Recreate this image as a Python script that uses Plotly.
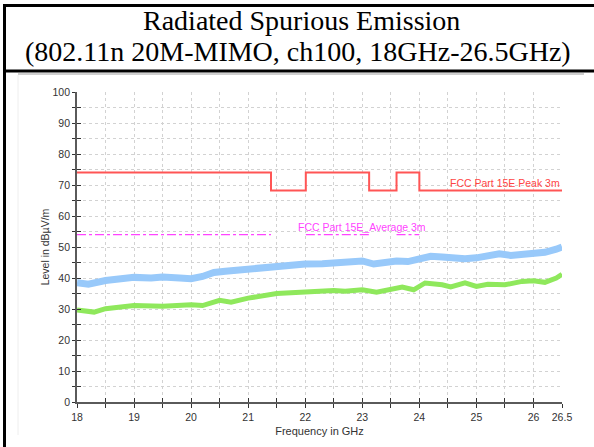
import plotly.graph_objects as go

W, H = 594, 447
ML, MR, MT, MB = 77, 32, 92, 45
PW, PH = W - ML - MR, H - MT - MB

# ---- data ----
freq_peak_trace = [18.0, 18.2, 18.5, 18.8, 19.0, 19.3, 19.5, 19.8, 20.0, 20.2, 20.4, 20.6,
                   20.8, 21.0, 21.3, 21.5, 21.8, 22.0, 22.3, 22.5, 22.8, 23.0, 23.2, 23.4,
                   23.6, 23.8, 24.0, 24.2, 24.4, 24.6, 24.8, 25.0, 25.2, 25.4, 25.6, 25.8,
                   26.0, 26.2, 26.4, 26.5]
level_peak_trace = [38.5, 38.0, 39.2, 39.8, 40.2, 40.0, 40.3, 40.0, 39.8, 40.5, 41.8, 42.2,
                    42.5, 43.0, 43.5, 44.0, 44.3, 44.5, 44.6, 44.8, 45.3, 45.5, 44.5, 45.0,
                    45.5, 45.3, 46.0, 47.0, 46.8, 46.5, 46.2, 46.5, 47.2, 47.8, 47.3, 47.5,
                    48.0, 48.3, 49.3, 50.0]

freq_avg_trace = [18.0, 18.3, 18.5, 19.0, 19.5, 20.0, 20.2, 20.5, 20.7, 21.0, 21.5, 22.0,
                  22.5, 22.7, 23.0, 23.25, 23.5, 23.7, 23.9, 24.1, 24.4, 24.55, 24.8, 25.0,
                  25.2, 25.5, 25.8, 26.0, 26.2, 26.4, 26.5]
level_avg_trace = [29.7, 29.0, 30.1, 31.1, 30.9, 31.4, 31.1, 32.8, 32.2, 33.5, 35.0, 35.4,
                   36.0, 35.7, 36.2, 35.4, 36.5, 37.1, 36.2, 38.4, 37.8, 37.1, 38.4, 37.3,
                   38.0, 37.8, 38.9, 39.1, 38.6, 40.0, 41.2]

limit_peak_freq = [18.0, 21.4, 22.01, 23.12, 23.6, 24.0, 26.5]
limit_peak_level = [74, 68.2, 74, 68.2, 74, 68.2, 68.2]

limit_avg_freq = [18.0, 21.4, None, 22.01, 23.12, None, 23.6, 24.0]
limit_avg_level = [54, 54, None, 54, 54, None, 54, 54]

x_tick_vals = [18, 19, 20, 21, 22, 23, 24, 25, 26, 26.5]
x_tick_text = ["18", "19", "20", "21", "22", "23", "24", "25", "26", "26.5"]
x_minor_vals = [18.5, 19.5, 20.5, 21.5, 22.5, 23.5, 24.5, 25.5]
x_all_ticks = [18 + 0.5 * i for i in range(18)]
y_tick_vals = [0, 10, 20, 30, 40, 50, 60, 70, 80, 90, 100]
y_minor_vals = [5, 15, 25, 35, 45, 55, 65, 75, 85, 95]
y_all_ticks = [5 * i for i in range(21)]

title_line1 = "Radiated Spurious Emission"
title_line2 = "(802.11n 20M-MIMO, ch100, 18GHz-26.5GHz)"
label_peak = "FCC Part 15E Peak 3m"
label_avg = "FCC Part 15E_Average 3m"


def px(xp):
    return (xp - ML) / PW


def py(yp):
    return (H - MB - yp) / PH


SANS = "Liberation Sans, Arial, sans-serif"
SERIF = "Liberation Serif, Times New Roman, serif"
GRID = "#d2d2d2"
AX = "#5a5a5a"

fig = go.Figure()
fig.add_trace(go.Scatter(x=freq_peak_trace, y=level_peak_trace, mode="lines",
                         line=dict(color="#98c9fa", width=7), showlegend=False, hoverinfo="skip"))
fig.add_trace(go.Scatter(x=freq_avg_trace, y=level_avg_trace, mode="lines",
                         line=dict(color="#8fe85c", width=5), showlegend=False, hoverinfo="skip"))
fig.add_trace(go.Scatter(x=limit_peak_freq, y=limit_peak_level, mode="lines", line_shape="hv",
                         line=dict(color="#ff5555", width=2), showlegend=False, hoverinfo="skip"))
fig.add_trace(go.Scatter(x=limit_avg_freq, y=limit_avg_level, mode="lines",
                         line=dict(color="#ff44ff", width=1.2, dash="dashdot"),
                         showlegend=False, hoverinfo="skip", connectgaps=False))
# helper trace for the overlay axes (crossing ticks)
fig.add_trace(go.Scatter(x=[x_tick_vals[0]], y=[y_tick_vals[0]], xaxis="x2", yaxis="y2",
                         mode="markers", marker=dict(opacity=0), showlegend=False,
                         hoverinfo="skip"))

fig.add_annotation(x=26.5, y=70.6, xref="x", yref="y", text=label_peak, showarrow=False,
                   xanchor="right", yanchor="middle",
                   font=dict(family=SANS, size=10.5, color="#ff4444"))
fig.add_annotation(x=21.84, y=56.5, xref="x", yref="y", text=label_avg, showarrow=False,
                   xanchor="left", yanchor="middle",
                   font=dict(family=SANS, size=10.5, color="#ff44ff"))

fig.add_annotation(x=px(301), y=py(20.5), xref="paper", yref="paper", text=title_line1,
                   showarrow=False, xanchor="center", yanchor="middle",
                   font=dict(family=SERIF, size=28, color="#000"))
fig.add_annotation(x=px(298), y=py(52), xref="paper", yref="paper", text=title_line2,
                   showarrow=False, xanchor="center", yanchor="middle",
                   font=dict(family=SERIF, size=28, color="#000"))

shapes = [
    dict(type="line", xref="paper", yref="paper", x0=px(3), x1=px(600), y0=py(5.5), y1=py(5.5),
         line=dict(color="#000", width=3)),
    dict(type="line", xref="paper", yref="paper", x0=px(3), x1=px(600), y0=py(71), y1=py(71),
         line=dict(color="#000", width=3)),
    dict(type="line", xref="paper", yref="paper", x0=px(4.5), x1=px(4.5), y0=py(4), y1=py(450),
         line=dict(color="#000", width=3)),
    dict(type="line", xref="paper", yref="paper", x0=px(18), x1=px(584), y0=py(74), y1=py(74),
         line=dict(color="#cfcfcf", width=2)),
    dict(type="line", xref="paper", yref="paper", x0=px(18), x1=px(18), y0=py(75), y1=py(435),
         line=dict(color="#eeeeee", width=1)),
]

fig.update_layout(
    width=W, height=H,
    margin=dict(l=ML, r=MR, t=MT, b=MB, autoexpand=False),
    paper_bgcolor="white", plot_bgcolor="white",
    shapes=shapes,
    xaxis=dict(range=[18, 26.5], tickmode="array", tickvals=x_tick_vals, ticktext=x_tick_text,
               ticks="outside", ticklen=4, tickwidth=1.2, tickcolor="#333",
               showline=True, linecolor=AX, linewidth=1.8,
               showgrid=True, gridcolor=GRID, griddash="dot", gridwidth=1, zeroline=False,
               tickfont=dict(family=SANS, size=10.5, color="#333"),
               minor=dict(tickmode="array", tickvals=x_minor_vals, ticks="outside", ticklen=4,
                          tickwidth=1.2, tickcolor="#333", showgrid=True, gridcolor=GRID,
                          griddash="dot", gridwidth=1),
               title=dict(text="Frequency in GHz", standoff=6,
                          font=dict(family=SANS, size=11, color="#333")),
               automargin=False, fixedrange=True),
    yaxis=dict(range=[0, 100], tickmode="array", tickvals=y_tick_vals,
               ticks="outside", ticklen=3, tickwidth=1.2, tickcolor="#333",
               showline=True, linecolor=AX, linewidth=1.8,
               showgrid=True, gridcolor=GRID, griddash="dot", gridwidth=1, zeroline=False,
               tickfont=dict(family=SANS, size=10.5, color="#333"),
               minor=dict(tickmode="array", tickvals=y_minor_vals, ticks="outside", ticklen=3,
                          tickwidth=1.2, tickcolor="#333", showgrid=True, gridcolor=GRID,
                          griddash="dot", gridwidth=1),
               title=dict(text="Level in dBµV/m", standoff=1,
                          font=dict(family=SANS, size=10.5, color="#333")),
               automargin=False, fixedrange=True),
    xaxis2=dict(range=[18, 26.5], overlaying="x", anchor="y2", side="bottom",
                tickmode="array", tickvals=x_all_ticks, ticks="inside", ticklen=4,
                tickwidth=1.2, tickcolor="#333", showticklabels=False, showgrid=False,
                zeroline=False, showline=False, fixedrange=True),
    yaxis2=dict(range=[0, 100], overlaying="y", anchor="x2", side="left",
                tickmode="array", tickvals=y_all_ticks, ticks="inside", ticklen=4,
                tickwidth=1.2, tickcolor="#333", showticklabels=False, showgrid=False,
                zeroline=False, showline=False, fixedrange=True),
)

fig.write_html("out.html", config={"displayModeBar": False},
               post_script="document.body.style.margin='0';document.body.style.overflow='hidden';")
